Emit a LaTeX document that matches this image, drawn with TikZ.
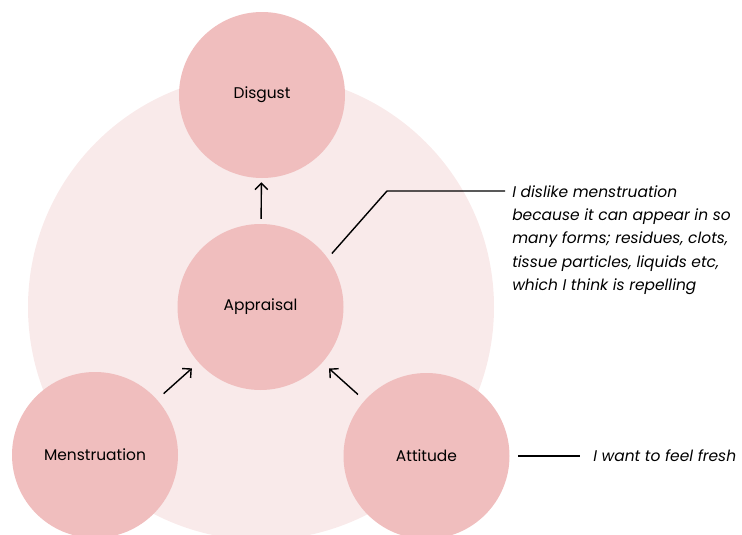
\documentclass[tikz,border=0pt]{standalone}
\usepackage{fontspec}
\setmainfont{Poppins}
\usetikzlibrary{arrows.meta}

\definecolor{bubblepink}{HTML}{F0BEBE}
\definecolor{haze}{HTML}{F9EAEA}

\tikzset{
  bubble/.style={circle, fill=bubblepink, minimum size=4.15cm, inner sep=0pt,
    font=\fontsize{11}{13}\selectfont},
  flow/.style={-{Straight Barb[length=4.5pt,width=9pt]}, line width=1pt},
  quote/.style={anchor=west, align=left, inner sep=0pt,
    font=\fontsize{11}{16.6}\selectfont\itshape}
}

\begin{document}
\begin{tikzpicture}
  \useasboundingbox (0,0) rectangle (18.55,13.35);
  % backdrop
  \fill[haze] (6.525,5.675) circle (5.825cm);

  \node[bubble] (disgust) at (6.55,10.975) {Disgust};
  \node[bubble] (appraisal) at (6.5125,5.675) {Appraisal};
  \node[bubble] (menstruation) at (2.375,1.975) {Menstruation};
  \node[bubble] (attitude) at (10.6625,1.95) {Attitude};

  \draw[flow, shorten <=0.12cm, shorten >=0.1cm] (appraisal) -- (disgust);
  \draw[flow, shorten <=0.22cm, shorten >=0.22cm] (menstruation) -- (appraisal);
  \draw[flow, shorten <=0.22cm, shorten >=0.22cm] (attitude) -- (appraisal);

  % callouts
  \coordinate (bend) at (9.675,8.575);
  \coordinate (tail) at (12.625,8.575);
  \node[quote, anchor=north west] (why) at (12.8,8.72)
       {I dislike menstruation\\because it can appear in so\\many forms; residues, clots,\\tissue particles, liquids etc,\\which I think is repelling};
  \draw[line width=1pt, shorten <=0.15cm] (appraisal.36) -- (bend) -- (tail);

  \coordinate (stub) at (12.95,1.95);
  \coordinate (stubend) at (14.5,1.95);
  \node[quote] (fresh) at (14.825,1.95) {I want to feel fresh};
  \draw[line width=1pt] (stub) -- (stubend);
\end{tikzpicture}
\end{document}
